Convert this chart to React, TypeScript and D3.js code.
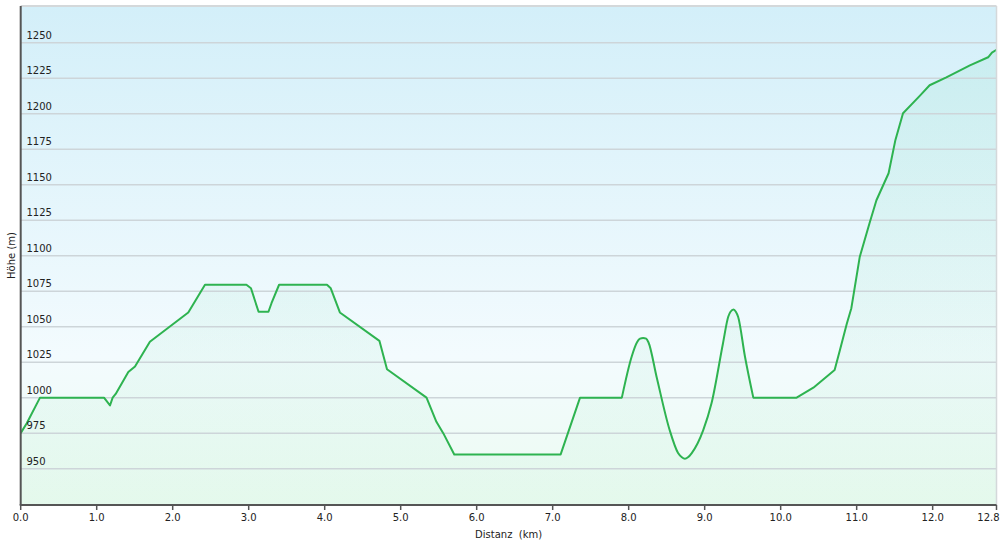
import React from "react";
import * as d3 from "d3";

// Elevation profile: distance (km) and elevation (m)
const distanceKm = [
  0, 0.08, 0.254, 1.096, 1.175, 1.21, 1.25, 1.416, 1.504, 1.7, 2.205, 2.425, 2.97, 3.03, 3.13, 3.26, 3.3, 3.4,
  4.03, 4.08, 4.2, 4.72, 4.82, 5.34, 5.47, 5.56, 5.705, 7.105, 7.36, 7.91, 8.04, 8.11, 8.15, 8.19, 8.23, 8.26,
  8.37, 8.54, 8.65, 8.7, 8.74, 8.78, 8.83, 8.98, 9.09, 9.24, 9.31, 9.34, 9.38, 9.41, 9.44, 9.53, 9.64, 10.21,
  10.43, 10.71, 10.78, 10.87, 10.93, 11.04, 11.17, 11.26, 11.42, 11.51, 11.61, 11.83, 11.96, 12.18, 12.49, 12.73,
  12.78, 12.84,
];
const elevationM = [
  975, 982, 1000, 1000, 994.5, 1000, 1002.6, 1018, 1022, 1039.4, 1060, 1079.5, 1079.5, 1077, 1060.5, 1060.5,
  1066.5, 1079.5, 1079.5, 1077, 1060, 1040, 1020, 1000, 983, 975, 960, 960, 1000, 1000, 1029, 1039, 1041.5, 1042,
  1041.5, 1039, 1014, 977, 961, 958, 957, 958, 961, 977, 996, 1038, 1057, 1060.5, 1062, 1060.5, 1057, 1029,
  1000, 1000, 1007, 1019.5, 1033.6, 1052, 1063, 1099, 1123, 1139, 1158, 1181.5, 1200.3, 1212.5, 1220, 1225.6,
  1234, 1239.7, 1243, 1245,
];
// the stretch drawn with a smooth curve (the two hills and the valley)
const smoothFromKm = 7.91;
const smoothToKm = 9.64;

const xTickValues = [0, 1, 2, 3, 4, 5, 6, 7, 8, 9, 10, 11, 12, 12.84];
const yTickValues = [950, 975, 1000, 1025, 1050, 1075, 1100, 1125, 1150, 1175, 1200, 1225, 1250];
const xTitle = "Distanz  (km)";
const yTitle = "Höhe (m)";

const W = 1000;
const H = 544;
const left = 20.7;
const right = 996.5;
const top = 6;
const bottom = 505;

type P = [number, number];

export default function App() {
  const x = d3.scaleLinear().domain([0, 12.84]).range([left, right]);
  const y = d3.scaleLinear().domain([924.4, 1275.8]).range([bottom, top]);
  const pts: P[] = distanceKm.map((d, i) => [d, elevationM[i]]);
  const seg1 = pts.filter((p) => p[0] <= smoothFromKm);
  const seg2 = pts.filter((p) => p[0] >= smoothFromKm && p[0] <= smoothToKm);
  const seg3 = pts.filter((p) => p[0] >= smoothToKm);
  const segs: [P[], d3.CurveFactory][] = [
    [seg1, d3.curveLinear],
    [seg2, d3.curveMonotoneX],
    [seg3, d3.curveLinear],
  ];
  const mkLine = (c: d3.CurveFactory) =>
    d3
      .line<P>()
      .x((d) => x(d[0]))
      .y((d) => y(d[1]))
      .curve(c);
  const mkArea = (c: d3.CurveFactory) =>
    d3
      .area<P>()
      .x((d) => x(d[0]))
      .y0(bottom)
      .y1((d) => y(d[1]))
      .curve(c);
  // combine the three line pieces into one continuous path
  const lineD = segs
    .map(([s, c], i) => {
      const d = mkLine(c)(s) || "";
      return i === 0 ? d : d.replace(/^M/, "L");
    })
    .join("");
  const font = "'DejaVu Sans', Verdana, sans-serif";

  return (
    <svg
      width={W}
      height={H}
      style={{ position: "absolute", left: 0, top: 0, background: "#fff" }}
      fontFamily={font}
    >
      <defs>
        <linearGradient id="bg" x1="0" y1="0" x2="0" y2="1">
          <stop offset="0%" stopColor="#d3eff9" />
          <stop offset="70%" stopColor="#f3fbfe" />
          <stop offset="100%" stopColor="#ecfbf1" />
        </linearGradient>
        <linearGradient id="areaFill" gradientUnits="userSpaceOnUse" x1="0" y1={top} x2="0" y2={bottom}>
          <stop offset="0%" stopColor="rgb(40,200,130)" stopOpacity={0.08} />
          <stop offset="100%" stopColor="rgb(40,200,110)" stopOpacity={0.04} />
        </linearGradient>
      </defs>
      <rect x={left} y={top} width={right - left} height={bottom - top} fill="url(#bg)" />
      {segs.map(([s, c], i) => (
        <path key={"a" + i} d={mkArea(c)(s) || ""} fill="url(#areaFill)" />
      ))}
      {yTickValues.map((v) => (
        <line key={"g" + v} x1={left} x2={right} y1={y(v)} y2={y(v)} stroke="#cdd5d9" strokeWidth={1.5} />
      ))}
      <path d={lineD} fill="none" stroke="#2eb350" strokeWidth={2} strokeLinejoin="round" />
      {yTickValues.map((v) => (
        <text key={"yl" + v} x={26.5} y={y(v) - 4} fontSize={10} fill="#222">
          {v}
        </text>
      ))}
      {/* top and right border */}
      <line x1={left} x2={right} y1={top} y2={top} stroke="#d4d8da" strokeWidth={2} />
      <line x1={right} x2={right} y1={top} y2={bottom} stroke="#d4d8da" strokeWidth={1.5} />
      {/* axes */}
      <line x1={left} x2={left} y1={top} y2={bottom} stroke="#555" strokeWidth={2} />
      <line x1={left - 1} x2={right} y1={bottom} y2={bottom} stroke="#555" strokeWidth={2} />
      {xTickValues.map((v) => (
        <g key={"xt" + v}>
          <line x1={x(v)} x2={x(v)} y1={bottom} y2={bottom + 5} stroke="#555" strokeWidth={1.5} />
          <text x={x(v) - (v === 12.84 ? 8 : 0)} y={521} fontSize={10} fill="#222" textAnchor="middle">
            {v.toFixed(1)}
          </text>
        </g>
      ))}
      <text x={(left + right) / 2} y={537.5} fontSize={10} fill="#222" textAnchor="middle" xmlSpace="preserve">
        {xTitle}
      </text>
      <text
        transform={`translate(15, ${(top + bottom) / 2}) rotate(-90)`}
        fontSize={10}
        fill="#222"
        textAnchor="middle"
      >
        {yTitle}
      </text>
    </svg>
  );
}
